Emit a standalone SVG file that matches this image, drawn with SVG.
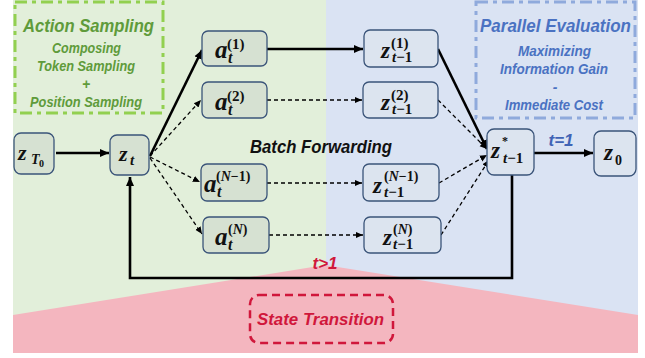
<svg xmlns="http://www.w3.org/2000/svg" width="645" height="358" viewBox="0 0 645 358">
<defs>
<style>
.nodeA{fill:#d6e1d2;stroke:#3a5479;stroke-width:1.3}
.nodeZ{fill:#dce4ef;stroke:#3a5479;stroke-width:1.3}
.m{font-family:"Liberation Serif","DejaVu Serif",serif;font-weight:bold;fill:#111}
.mi{font-style:italic}
.lbl{font-family:"Liberation Sans","Open Sans",sans-serif;font-weight:bold;font-style:italic}
.g{fill:#5f9b3b}
.b{fill:#4a72c2}
.r{fill:#d0173b}
.solid{fill:none;stroke:#000;stroke-width:2.6}
.dash{fill:none;stroke:#000;stroke-width:1.3;stroke-dasharray:4 3}
</style>
<marker id="ah" markerUnits="userSpaceOnUse" markerWidth="10" markerHeight="10" viewBox="0 0 10 10" refX="9" refY="5" orient="auto">
<path d="M0,1 L9,5 L0,9 Z" fill="#000"/>
</marker>
<marker id="ahs" markerUnits="userSpaceOnUse" markerWidth="8" markerHeight="8" viewBox="0 0 10 10" refX="9" refY="5" orient="auto">
<path d="M0,1 L9,5 L0,9 Z" fill="#000"/>
</marker>
</defs>

<g id="background">
<rect x="13" y="0" width="313" height="353" fill="#e2efda"/>
<rect x="326" y="0" width="312" height="353" fill="#dae3f3"/>
<polygon points="13,315 325,265 638,315 638,353 13,353" fill="#f4b6bf"/>
</g>

<g id="action-sampling">
<rect x="15" y="2" width="148" height="111" fill="none" stroke="#92d050" stroke-width="3" stroke-dasharray="12 5 4 5"/>
<text class="lbl g" x="88.5" y="32" font-size="18" text-anchor="middle" textLength="131" lengthAdjust="spacingAndGlyphs">Action Sampling</text>
<text class="lbl g" x="86.5" y="53" font-size="14" text-anchor="middle" textLength="69" lengthAdjust="spacingAndGlyphs">Composing</text>
<text class="lbl g" x="86" y="71" font-size="14" text-anchor="middle" textLength="98" lengthAdjust="spacingAndGlyphs">Token Sampling</text>
<text class="lbl g" x="86" y="89" font-size="14" text-anchor="middle">+</text>
<text class="lbl g" x="86" y="107" font-size="14" text-anchor="middle" textLength="112" lengthAdjust="spacingAndGlyphs">Position Sampling</text>
</g>

<g id="parallel-evaluation">
<rect x="476" y="2" width="159" height="116" fill="none" stroke="#8faadc" stroke-width="3" stroke-dasharray="12 5 4 5"/>
<text class="lbl b" x="555.5" y="32" font-size="18" text-anchor="middle" textLength="151" lengthAdjust="spacingAndGlyphs">Parallel Evaluation</text>
<text class="lbl b" x="554.5" y="56" font-size="14" text-anchor="middle" textLength="73" lengthAdjust="spacingAndGlyphs">Maximizing</text>
<text class="lbl b" x="554" y="74" font-size="14" text-anchor="middle" textLength="108" lengthAdjust="spacingAndGlyphs">Information Gain</text>
<text class="lbl b" x="555" y="92" font-size="14" text-anchor="middle">-</text>
<text class="lbl b" x="554" y="110" font-size="14" text-anchor="middle" textLength="98" lengthAdjust="spacingAndGlyphs">Immediate Cost</text>
</g>

<g id="state-transition">
<rect x="250" y="295" width="143" height="48" rx="9" fill="none" stroke="#d0173b" stroke-width="2.5" stroke-dasharray="8 5"/>
<text class="lbl r" x="320.5" y="325" font-size="17" text-anchor="middle" textLength="127" lengthAdjust="spacingAndGlyphs">State Transition</text>
</g>

<g id="connectors">
<line class="solid" x1="56" y1="153" x2="109" y2="153" marker-end="url(#ah)"/>
<line class="solid" x1="150" y1="156" x2="202" y2="50" marker-end="url(#ah)"/>
<line class="dash" x1="150" y1="156" x2="201" y2="100" marker-end="url(#ahs)"/>
<line class="dash" x1="150" y1="157" x2="200" y2="182" marker-end="url(#ahs)"/>
<line class="dash" x1="150" y1="158" x2="202" y2="234" marker-end="url(#ahs)"/>
<line class="solid" x1="267" y1="49" x2="363" y2="49" marker-end="url(#ah)"/>
<line class="dash" x1="267" y1="100" x2="362" y2="100" marker-end="url(#ahs)"/>
<line class="dash" x1="267" y1="183" x2="362" y2="183" marker-end="url(#ahs)"/>
<line class="dash" x1="269" y1="235" x2="363" y2="235" marker-end="url(#ahs)"/>
<line class="solid" x1="438" y1="49" x2="487" y2="149" marker-end="url(#ah)"/>
<line class="dash" x1="438" y1="100" x2="487" y2="149" marker-end="url(#ahs)"/>
<line class="dash" x1="439" y1="183" x2="487" y2="155" marker-end="url(#ahs)"/>
<line class="dash" x1="441" y1="235" x2="489" y2="160" marker-end="url(#ahs)"/>
<line class="solid" x1="534" y1="153" x2="593" y2="153" marker-end="url(#ah)"/>
<path class="solid" d="M512,175 V278 H130 V177" marker-end="url(#ah)"/>
<text class="lbl" x="561" y="146" font-size="17" text-anchor="middle" fill="#3f63b5">t=1</text>
<text class="lbl r" x="325" y="269" font-size="17" text-anchor="middle">t&gt;1</text>
<text class="lbl" x="321" y="153" font-size="18" text-anchor="middle" fill="#111" textLength="142" lengthAdjust="spacingAndGlyphs">Batch Forwarding</text>
</g>

<g id="node-zT0">
<rect class="nodeA" x="14" y="133" width="40" height="41" rx="7"/>
<text class="m mi" x="18" y="160" font-size="22">z<tspan x="31" y="164" font-size="14">T</tspan><tspan x="39" y="167" font-size="10" font-style="normal">0</tspan></text>
</g>

<g id="node-zt">
<rect class="nodeA" x="110" y="135" width="39" height="40" rx="7"/>
<text class="m mi" x="119" y="161" font-size="22">z<tspan x="130" y="165" font-size="15">t</tspan></text>
</g>

<g id="node-a1">
<rect class="nodeA" x="202" y="31" width="65" height="35" rx="6"/>
<text class="m mi" x="215" y="58" font-size="25">a<tspan x="228" y="63" font-size="16">t</tspan><tspan x="227" y="49" font-size="15" font-style="normal">(1)</tspan></text>
</g>

<g id="node-a2">
<rect class="nodeA" x="202" y="82" width="65" height="36" rx="6"/>
<text class="m mi" x="215" y="110" font-size="25">a<tspan x="228" y="115" font-size="16">t</tspan><tspan x="227" y="101" font-size="15" font-style="normal">(2)</tspan></text>
</g>

<g id="node-aN-1">
<rect class="nodeA" x="201" y="164" width="66" height="37" rx="6"/>
<text class="m mi" x="204" y="192" font-size="25">a<tspan x="217" y="197" font-size="16">t</tspan><tspan x="216" y="181" font-size="14" font-style="normal">(</tspan><tspan font-size="14">N</tspan><tspan font-size="14" font-style="normal">−1)</tspan></text>
</g>

<g id="node-aN">
<rect class="nodeA" x="203" y="217" width="66" height="36" rx="6"/>
<text class="m mi" x="215" y="245" font-size="25">a<tspan x="228" y="250" font-size="16">t</tspan><tspan x="228" y="234" font-size="14" font-style="normal">(</tspan><tspan font-size="14">N</tspan><tspan font-size="14" font-style="normal">)</tspan></text>
</g>

<g id="node-z1">
<rect class="nodeZ" x="364" y="30" width="74" height="37" rx="6"/>
<text class="m mi" x="381" y="58" font-size="23">z<tspan x="391" y="48" font-size="15" font-style="normal">(1)</tspan><tspan x="392" y="62" font-size="15">t</tspan><tspan font-size="15" font-style="normal">−1</tspan></text>
</g>

<g id="node-z2">
<rect class="nodeZ" x="363" y="82" width="75" height="36" rx="6"/>
<text class="m mi" x="381" y="110" font-size="23">z<tspan x="391" y="100" font-size="15" font-style="normal">(2)</tspan><tspan x="392" y="114" font-size="15">t</tspan><tspan font-size="15" font-style="normal">−1</tspan></text>
</g>

<g id="node-zN-1">
<rect class="nodeZ" x="363" y="164" width="76" height="37" rx="6"/>
<text class="m mi" x="373" y="193" font-size="23">z<tspan x="384" y="181" font-size="14" font-style="normal">(</tspan><tspan font-size="14">N</tspan><tspan font-size="14" font-style="normal">−1)</tspan><tspan x="384" y="197" font-size="15">t</tspan><tspan font-size="15" font-style="normal">−1</tspan></text>
</g>

<g id="node-zN">
<rect class="nodeZ" x="364" y="217" width="77" height="36" rx="6"/>
<text class="m mi" x="383" y="245" font-size="23">z<tspan x="393" y="234" font-size="14" font-style="normal">(</tspan><tspan font-size="14">N</tspan><tspan font-size="14" font-style="normal">)</tspan><tspan x="393" y="249" font-size="15">t</tspan><tspan font-size="15" font-style="normal">−1</tspan></text>
</g>

<g id="node-zstar">
<rect class="nodeZ" x="487" y="129" width="47" height="46" rx="7"/>
<text class="m mi" x="491" y="158" font-size="23">z<tspan x="502" y="145" font-size="12" font-style="normal">*</tspan><tspan x="503" y="163" font-size="15">t</tspan><tspan font-size="15" font-style="normal">−1</tspan></text>
</g>

<g id="node-z0">
<rect class="nodeZ" x="594" y="131" width="42" height="45" rx="7"/>
<text class="m mi" x="604" y="160" font-size="23">z<tspan x="615" y="165" font-size="14" font-style="normal">0</tspan></text>
</g>
</svg>
